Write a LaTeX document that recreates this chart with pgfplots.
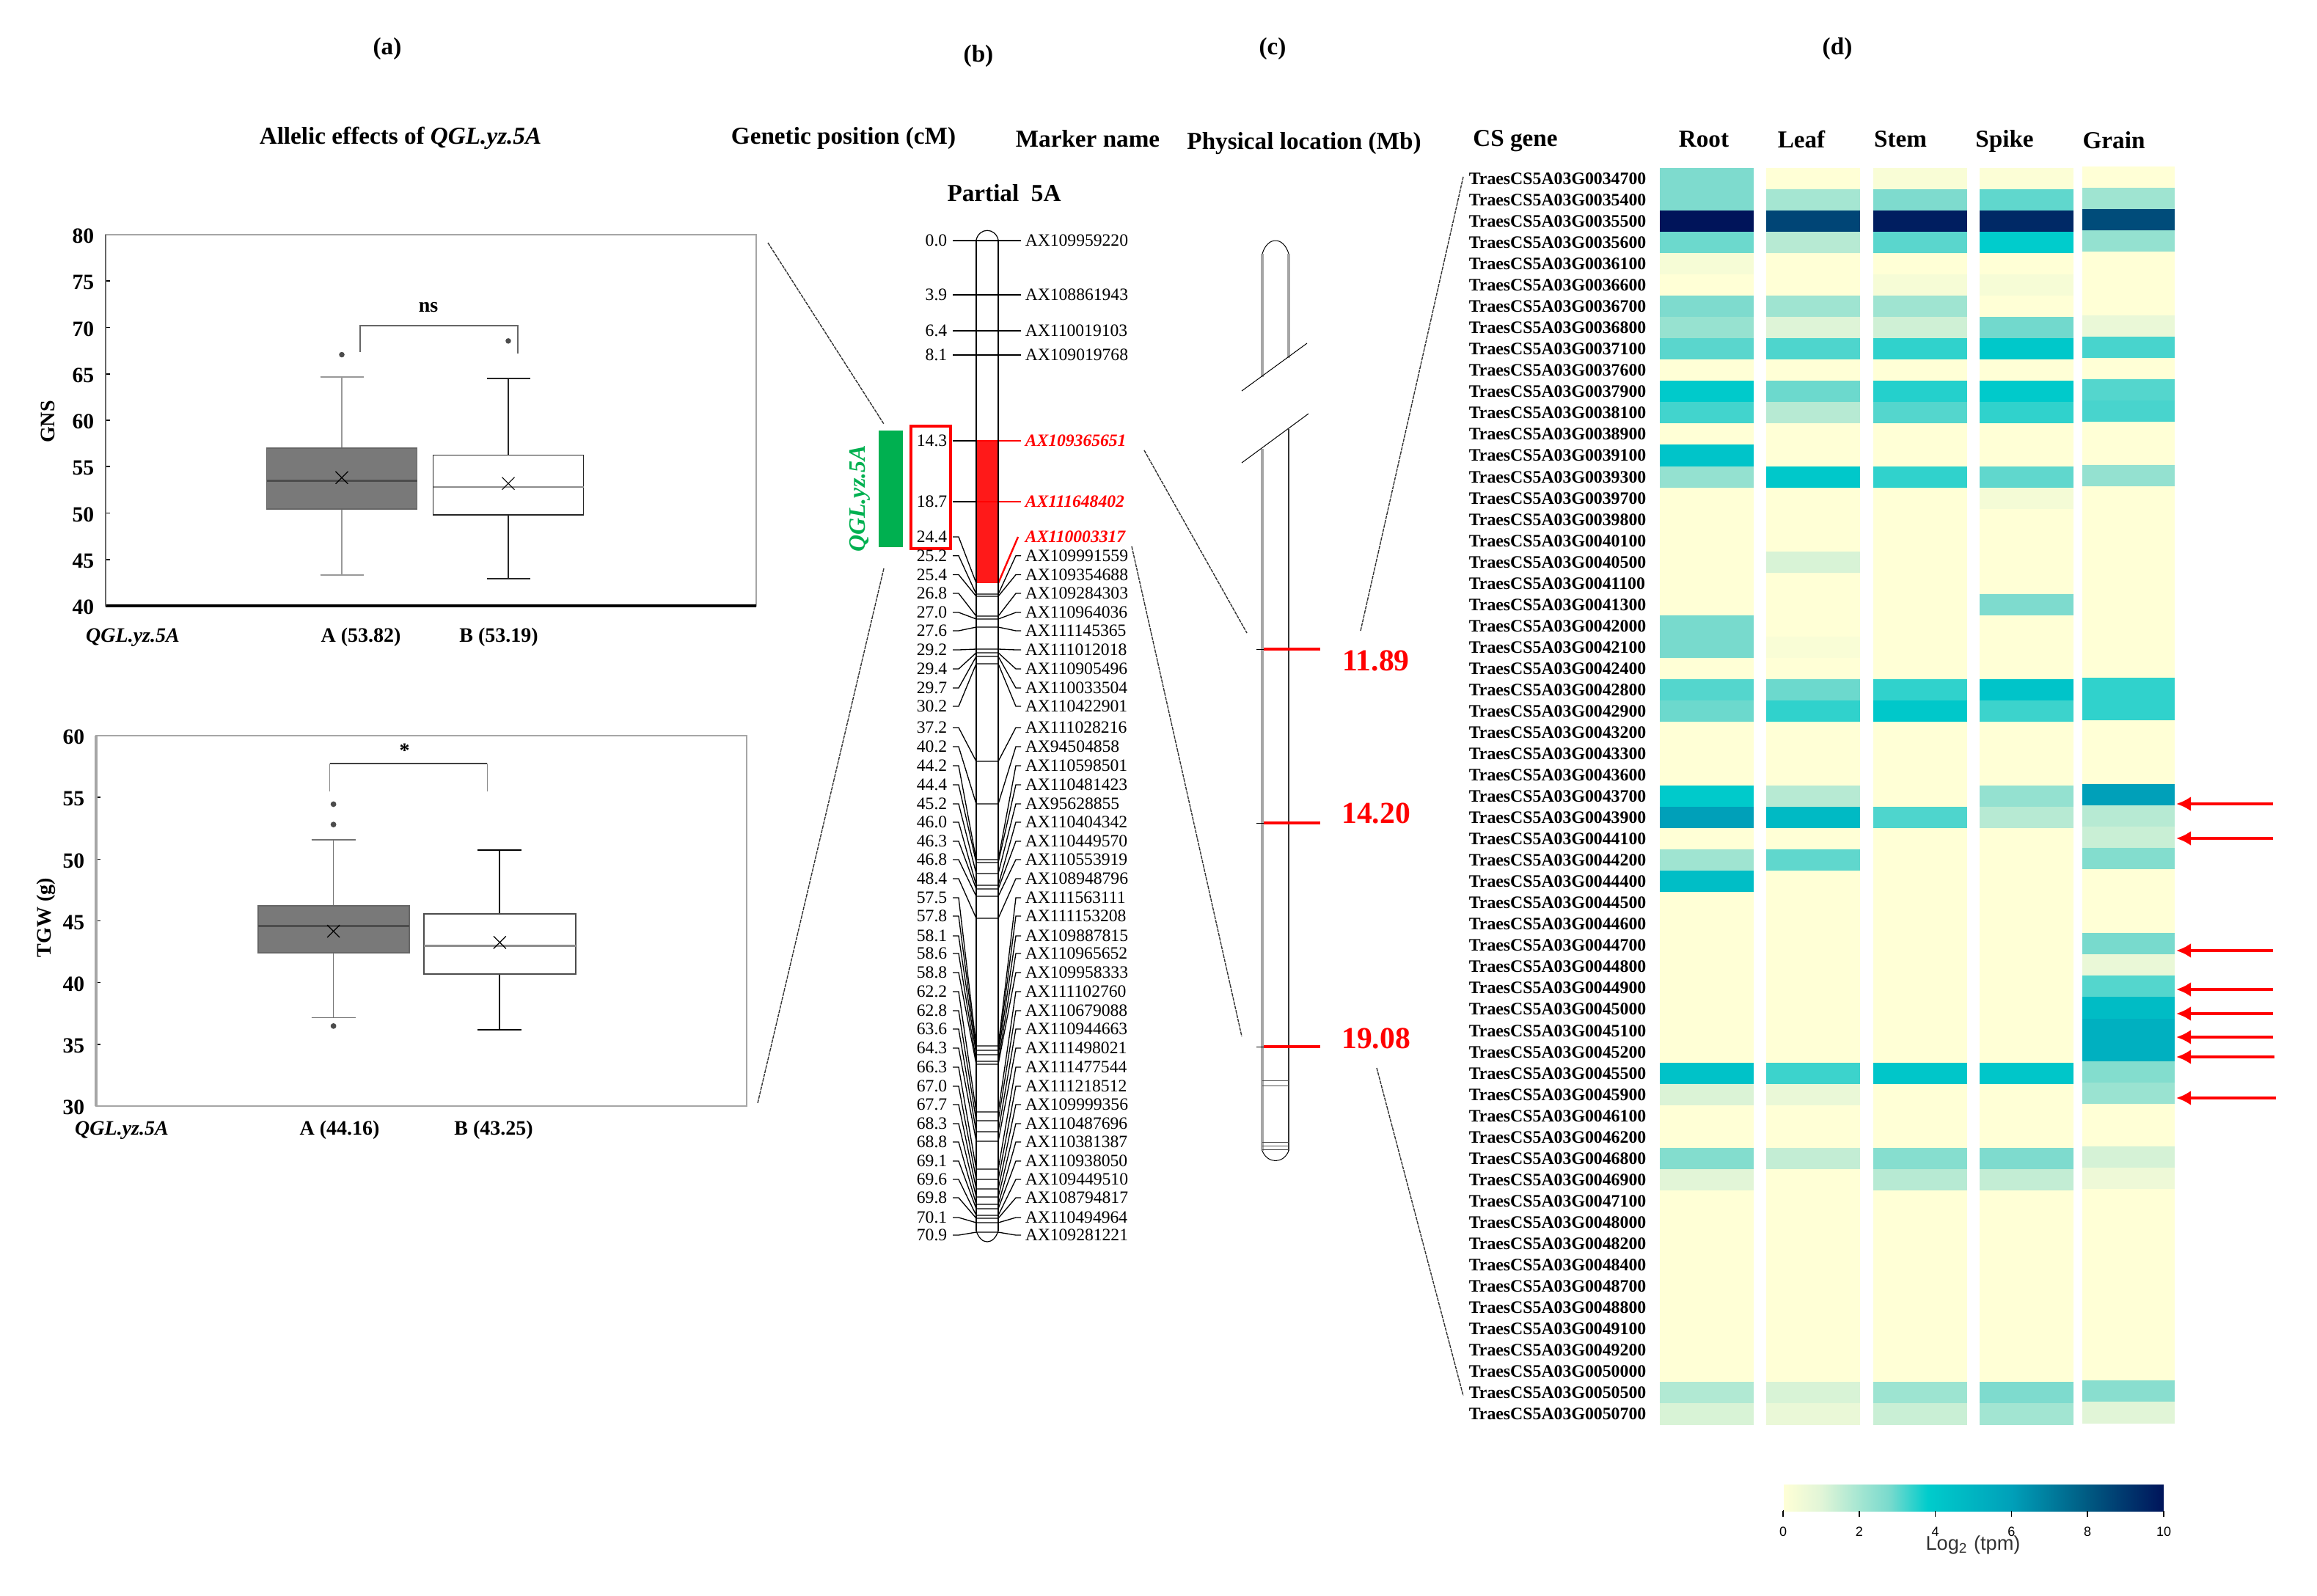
\documentclass[border=0pt]{standalone}
\usepackage{fontspec}
\setmainfont{Liberation Serif}
\setsansfont{Liberation Sans}
\usepackage{pgfplots}
\usepackage{pgfplotstable}
\pgfplotsset{compat=1.18}
\usepgfplotslibrary{statistics}
\usetikzlibrary{arrows.meta}
\newcommand\fH{\fontsize{8.3}{10}\selectfont\bfseries}
\newcommand\fL{\fontsize{7}{8.5}\selectfont\bfseries}
\newcommand\fM{\fontsize{5.9}{7}\selectfont}
\newcommand\fG{\fontsize{5.95}{7}\selectfont\bfseries}
\definecolor{hred}{RGB}{255,0,0}
\definecolor{qgreen}{RGB}{0,176,80}
\pgfdeclareplotmark{cellW}{\pgfpathrectangle{\pgfpoint{-16pt}{-3.7pt}}{\pgfpoint{32pt}{7.4pt}}\pgfusepathqfill}
\pgfdeclareplotmark{cellG}{\pgfpathrectangle{\pgfpoint{-15.75pt}{-3.7pt}}{\pgfpoint{31.5pt}{7.4pt}}\pgfusepathqfill}
\pgfplotsset{
  colormap={ygb}{rgb255(0pt)=(255,255,214); rgb255(10pt)=(225,245,215); rgb255(20pt)=(165,230,210); rgb255(28pt)=(120,218,205); rgb255(38pt)=(0,204,204); rgb255(60pt)=(0,160,185); rgb255(80pt)=(0,90,130); rgb255(100pt)=(0,20,90)},
  boxax/.style={anchor=south west, scale only axis, xtick=\empty, ytick pos=left, tick align=inside, major tick length=1.5pt,
    tick style={black,line width=.4pt},
    axis line style={draw=gray!70,line width=.35pt},
    yticklabel style={font=\fontsize{7.4}{9}\selectfont\bfseries,yshift=-.5pt,xshift=-.4pt},
    /pgf/number format/assume math mode=true, clip=false, ylabel style={font=\fL}},
}
\pgfplotstableread{
y R L T P G
244 2.7 0 0.2 0.1 0
273 2.7 2.0 2.7 3.0 2.1
302 10 8.6 9.7 9.4 8.4
331 2.9 1.7 3.05 3.8 2.3
360 0.3 0 0 0 0
389 0 0 0.3 0.3 0
418 2.7 2.1 2.1 0 0
447 2.25 1.05 1.3 2.85 0.7
476 3.05 3.15 3.4 4.0 3.2
505 0 0 0 0 0
534 3.9 2.9 3.5 3.9 3.1
563 3.25 1.7 3.1 3.4 3.2
592 0 0 0 0 0
621 4.2 0 0 0 0
651 2.3 4.0 3.4 3.0 2.3
680 0 0 0 0.35 0
709 0 0 0 0 0
738 0 0 0 0 0
767 0 1.15 0 0 0
796 0 0 0 0 0
825 0 0 0 2.7 0
854 2.8 0 0 0 0
883 2.8 0.2 0 0 0
912 0 0 0 0 0
941 3.1 2.9 3.4 4.2 3.4
970 2.9 3.4 4.0 3.3 3.4
999 0 0 0 0 0
1028 0 0 0 0 0
1057 0 0 0 0 0
1086 3.9 1.7 0 2.3 6.0
1115 6.0 4.7 3.15 1.7 1.7
1144 0 0 0 0 1.4
1173 2.1 3.0 0 0 2.6
1202 4.5 0 0 0 0
1231 0 0 0 0 0
1260 0 0 0 0 0
1289 0 0 0 0 2.8
1318 0 0 0 0 0.7
1347 0 0 0 0 3.1
1376 0 0 0 0 4.6
1406 0 0 0 0 5.2
1435 0 0 0 0 5.2
1464 4.3 3.3 4.1 4.1 2.6
1493 1.1 0.7 0 0 2.2
1522 0 0 0 0 0
1551 0 0 0 0 0
1580 2.6 1.5 2.55 2.7 1.2
1609 0.95 0 1.7 1.5 0.55
1638 0 0 0 0 0
1667 0 0 0 0 0
1696 0 0 0 0 0
1725 0 0 0 0 0
1754 0 0 0 0 0
1783 0 0 0 0 0
1812 0 0 0 0 0
1841 0 0 0 0 0
1870 0 0 0 0 0
1899 1.8 1.15 2.15 2.7 2.5
1928 1.15 0.7 1.4 2.05 1.0
}\heat
\begin{document}
\begin{tikzpicture}
\useasboundingbox (0,0) rectangle (789.75pt,543.75pt);
\begin{axis}[at={(0,0)},anchor=south west,scale only axis,width=789.75pt,height=543.75pt,
  xmin=0,xmax=3159,ymin=0,ymax=2175,y dir=reverse,hide axis,clip=false,
  point meta min=0,point meta max=10,colormap name=ygb]
% heat map
\pgfplotsset{cellst/.style={scatter,only marks,point meta=explicit,scatter/use mapped color={fill=mapped color,draw=none}}}
\addplot[cellst,mark=cellW] table[x expr=2326.5,y=y,meta=R]{\heat};
\addplot[cellst,mark=cellW] table[x expr=2472,y=y,meta=L]{\heat};
\addplot[cellst,mark=cellW] table[x expr=2617.5,y=y,meta=T]{\heat};
\addplot[cellst,mark=cellW] table[x expr=2763,y=y,meta=P]{\heat};
\addplot[cellst,mark=cellG] table[x expr=2902,y expr=\thisrow{y}-2,meta=G]{\heat};
% gene labels
\foreach \y/\g in {244/0034700,273/0035400,302/0035500,331/0035600,360/0036100,389/0036600,418/0036700,447/0036800,476/0037100,505/0037600,534/0037900,563/0038100,592/0038900,621/0039100,651/0039300,680/0039700,709/0039800,738/0040100,767/0040500,796/0041100,825/0041300,854/0042000,883/0042100,912/0042400,941/0042800,970/0042900,999/0043200,1028/0043300,1057/0043600,1086/0043700,1115/0043900,1144/0044100,1173/0044200,1202/0044400,1231/0044500,1260/0044600,1289/0044700,1318/0044800,1347/0044900,1376/0045000,1406/0045100,1435/0045200,1464/0045500,1493/0045900,1522/0046100,1551/0046200,1580/0046800,1609/0046900,1638/0047100,1667/0048000,1696/0048200,1725/0048400,1754/0048700,1783/0048800,1812/0049100,1841/0049200,1870/0050000,1899/0050500,1928/0050700}{
  \edef\tmp{\noexpand\node[anchor=west,inner sep=0pt,font=\noexpand\fG] at (2002,\y) {TraesCS5A03G\g};}\tmp}
% headers
\node[font=\fH] at (528,67) {(a)};
\node[font=\fH] at (1334,77) {(b)};
\node[font=\fH] at (1735,67) {(c)};
\node[font=\fH] at (2505,67) {(d)};
\node[font=\fH] at (546,188) {Allelic effects of \textit{QGL.yz.5A}};
\node[font=\fH] at (1150,189) {Genetic position (cM)};
\node[font=\fH] at (1483,189) {Marker name};
\node[font=\fH] at (1778,196) {Physical location (Mb)};
\node[font=\fH] at (1369,263) {Partial\ \ 5A};
\node[font=\fH] at (2066,192) {CS gene};
\node[font=\fH] at (2323,190) {Root};
\node[font=\fH] at (2456,190) {Leaf};
\node[font=\fH] at (2591,190) {Stem};
\node[font=\fH] at (2733,193) {Spike};
\node[font=\fH] at (2882,191) {Grain};
% box plot labels
\node[font=\fL] at (181,869) {\textit{QGL.yz.5A}};
\node[font=\fL] at (492,869) {A (53.82)};
\node[font=\fL] at (680,869) {B (53.19)};
\node[font=\fL] at (166,1541) {\textit{QGL.yz.5A}};
\node[font=\fL] at (463,1541) {A (44.16)};
\node[font=\fL] at (673,1541) {B (43.25)};
\node[font=\fL,rotate=90] at (65,575) {GNS};
\node[font=\fL,rotate=90] at (63,1251) {TGW (g)};
% connecting lines
\pgfplotsset{conn/.style={gray!40!black,line width=.35pt,dash pattern=on 1.2pt off .3pt}}
\addplot[conn] coordinates {(1047,331)(1205,578)};
\addplot[conn] coordinates {(1205,775)(1033,1504)};
\addplot[conn] coordinates {(1560,614)(1700,863)};
\addplot[conn] coordinates {(1543,745)(1693,1413)};
\addplot[conn] coordinates {(1855,860)(1995,241)};
\addplot[conn] coordinates {(1877,1456)(1995,1903)};
% QTL block
\fill[qgreen] (1198,587) rectangle (1231,746);
\draw[hred,line width=1.2pt] (1242,581) rectangle (1296,748);
\node[font=\fontsize{8}{9}\selectfont\bfseries\itshape,text=qgreen,rotate=90] at (1172,680) {QGL.yz.5A};
% genetic map
\fill[red!90!white] (1331,601) rectangle (1361,795);
\foreach \n/\ly/\by/\nm in {0.0/328/328/AX109959220,3.9/402/402/AX108861943,6.4/451/451/AX110019103,8.1/484/484/AX109019768,
 25.2/757.7/810/AX109991559,25.4/783.5/813/AX109354688,26.8/809/840/AX109284303,27.0/835/844/AX110964036,27.6/860/855/AX111145365,29.2/886/885/AX111012018,29.4/912/890/AX110905496,29.7/938/895/AX110033504,30.2/963/905/AX110422901,
 37.2/992/1038/AX111028216,40.2/1018/1096/AX94504858,44.2/1044/1172/AX110598501,44.4/1070/1176/AX110481423,45.2/1096/1191/AX95628855,46.0/1121/1207/AX110404342,46.3/1147/1212/AX110449570,46.8/1172/1222/AX110553919,48.4/1198/1252/AX108948796,
 57.5/1224/1426/AX111563111,57.8/1249/1432/AX111153208,58.1/1276/1438/AX109887815,58.6/1300/1447/AX110965652,58.8/1326/1451/AX109958333,62.2/1352/1516/AX111102760,62.8/1378/1528/AX110679088,63.6/1403/1543/AX110944663,64.3/1429/1556/AX111498021,66.3/1455/1594/AX111477544,
 67.0/1481/1608/AX111218512,67.7/1506/1621/AX109999356,68.3/1532/1632/AX110487696,68.8/1557/1642/AX110381387,69.1/1583/1648/AX110938050,69.6/1608/1657/AX109449510,69.8/1633/1661/AX108794817,70.1/1660/1667/AX110494964,70.9/1684/1680/AX109281221}{
  \edef\tmp{\noexpand\addplot[black,line width=.33pt] coordinates {(1299,\ly)(1307,\ly)(1331,\by)(1361,\by)(1385,\ly)(1392,\ly)};
  \noexpand\node[anchor=east,inner sep=0pt,font=\noexpand\fM] at (1292,\ly) {\n};
  \noexpand\node[anchor=west,inner sep=0pt,font=\noexpand\fM] at (1397,\ly) {\nm};}\tmp}
% highlighted markers
\addplot[black,line width=.33pt] coordinates {(1299,601)(1331,601)};
\addplot[hred,line width=.5pt] coordinates {(1331,601)(1392,601)};
\addplot[black,line width=.33pt] coordinates {(1299,684)(1331,684)};
\addplot[hred,line width=.5pt] coordinates {(1331,684)(1392,684)};
\addplot[black,line width=.33pt] coordinates {(1299,732)(1307,732)(1331,795)};
\addplot[hred,line width=.6pt] coordinates {(1361,795)(1388,732)};
\node[anchor=east,inner sep=0pt,font=\fM] at (1292,601) {14.3};
\node[anchor=east,inner sep=0pt,font=\fM] at (1292,684) {18.7};
\node[anchor=east,inner sep=0pt,font=\fM] at (1292,732) {24.4};
\node[anchor=west,inner sep=0pt,font=\fM\bfseries\itshape,text=hred] at (1397,601) {AX109365651};
\node[anchor=west,inner sep=0pt,font=\fM\bfseries\itshape,text=hred] at (1397,684) {AX111648402};
\node[anchor=west,inner sep=0pt,font=\fM\bfseries\itshape,text=hred] at (1397,732) {AX110003317};
% chromosome outline
\draw[black,line width=.5pt] (1331,327) -- (1331,1678);
\draw[black,line width=.5pt] (1361,327) -- (1361,1678);
\draw[black,line width=.3pt] (1331,327) .. controls (1335,310) and (1357,310) .. (1361,327);
\draw[black,line width=.3pt] (1331,1678) .. controls (1337,1698) and (1355,1698) .. (1361,1678);
% physical chromosome
\draw[gray!70,line width=.8pt] (1721,346) -- (1721,514);
\draw[gray!70,line width=.8pt] (1757,346) -- (1757,488);
\draw[gray!70,line width=.8pt] (1721,612) -- (1721,1569);
\draw[black!80,line width=.5pt] (1757,585) -- (1757,1569);
\draw[black,line width=.25pt] (1721,346) .. controls (1728,322) and (1750,322) .. (1757,346);
\draw[black,line width=.25pt] (1721,1569) .. controls (1728,1587) and (1750,1587) .. (1757,1569);
\draw[black,line width=.25pt] (1693,533) -- (1782,468);
\draw[black,line width=.25pt] (1693,631) -- (1784,564);
\foreach \yy in {1473,1480,1557,1562,1567}{\edef\tmp{\noexpand\draw[black!70,line width=.2pt] (1721,\yy) -- (1757,\yy);}\tmp}
\foreach \yy/\tt/\ty in {885/11.89/901,1122/14.20/1109,1427/19.08/1416}{
 \edef\tmp{\noexpand\draw[black,line width=.2pt] (1713,\yy) -- (1723,\yy);
 \noexpand\draw[hred,line width=.8pt] (1723,\yy) -- (1800,\yy);
 \noexpand\node[font=\noexpand\fontsize{10.4}{12}\noexpand\selectfont\noexpand\bfseries,text=hred] at (1876,\ty) {\tt};}\tmp}
% arrows
\foreach \yy/\xx in {1096/3099,1143/3099,1296/3099,1349/3099,1382/3099,1414/3099,1441/3101,1497/3103}{
 \edef\tmp{\noexpand\draw[hred,line width=1.1pt,-{Latex[length=5pt,width=5pt]}] (\xx,\yy) -- (2967,\yy);}\tmp}
% colour bar annotation
\draw[black,line width=.4pt] (2431,2060) -- (2950,2060);
\node[font=\sffamily\fontsize{6.8}{8}\selectfont,text=black!80] at (2690,2106) {Log\textsubscript{2} (tpm)};
\end{axis}
% colour bar
\begin{axis}[at={(607.75pt,28.75pt)},anchor=south west,scale only axis,width=129.75pt,height=9pt,hide axis,
  xmin=0,xmax=10,ymin=0,ymax=1,point meta min=0,point meta max=10,colormap name=ygb,
  colorbar horizontal,
  colorbar style={at={(0,0)},anchor=south west,scale only axis,width=129.75pt,height=9pt,
    axis line style={draw=none},xtick={0,2,4,6,8,10},tick style={black,line width=.4pt},tick align=outside,major tick length=2pt,
    xticklabel style={font=\sffamily\fontsize{4.5}{5}\selectfont},/pgf/number format/assume math mode=true,
    xticklabel pos=lower,xtick pos=lower,ytick=\empty}]
\addplot[draw=none] coordinates {(0,0)(10,1)};
\end{axis}
% GNS
\begin{axis}[boxax,at={(36pt,337.25pt)},width=221.75pt,height=126.5pt,xmin=144,xmax=1031,ymin=40,ymax=80,ytick={40,45,...,80},
  boxplot/draw direction=y]
\addplot+[fill=gray!95!black,draw=black!60,line width=.45pt,solid,mark=*,mark size=.7pt,mark options={black!70,fill=black!70},boxplot prepared={lower whisker=43.35,lower quartile=50.44,median=53.46,upper quartile=57.0,upper whisker=64.67,draw position=466,box extend=205,whisker extend=59},
  boxplot/every median/.style={draw=black!70,line width=.7pt},boxplot/every whisker/.style={draw=black!40,line width=.5pt}] coordinates {(466,67.07)};
\addplot+[fill=white,draw=black!85,line width=.45pt,solid,mark=*,mark size=.7pt,mark options={black!70,fill=black!70},boxplot prepared={lower whisker=42.9,lower quartile=49.8,median=52.8,upper quartile=56.24,upper whisker=64.5,draw position=693,box extend=205,whisker extend=59},
  boxplot/every median/.style={draw=black!45,line width=.6pt}] coordinates {(693,68.55)};
\addplot[only marks,mark=x,mark size=3pt,black,mark options={line width=.3pt}] coordinates {(466,53.82)(693,53.19)};
\addplot[black!60,line width=.3pt] coordinates {(491,67.35)(491,70.2)(706,70.2)(706,67.2)};
\node[font=\fL] at (584,72.2) {ns};
\draw[black,line width=.8pt] (144,40) -- (1031,40);
\draw[black!60,line width=.6pt] (144,40) -- (144,80);
\end{axis}
% TGW
\begin{axis}[boxax,at={(32.75pt,166.75pt)},width=221.75pt,height=126.25pt,xmin=131,xmax=1019,ymin=30,ymax=60,ytick={30,35,...,60},
  boxplot/draw direction=y]
\addplot+[fill=gray!95!black,draw=black!60,line width=.5pt,solid,mark=*,mark size=.7pt,mark options={black!70,fill=black!70},boxplot prepared={lower whisker=37.15,lower quartile=42.4,median=44.6,upper quartile=46.2,upper whisker=51.57,draw position=455,box extend=206,whisker extend=60},
  boxplot/every median/.style={draw=black!70,line width=.7pt},boxplot/every whisker/.style={draw=black!55,line width=.4pt}] coordinates {(455,54.45)(455,52.8)(455,36.48)};
\addplot+[fill=white,draw=black!70,line width=.5pt,solid,mark=none,boxplot prepared={lower whisker=36.16,lower quartile=40.67,median=42.99,upper quartile=45.58,upper whisker=50.73,draw position=682,box extend=207,whisker extend=60},
  boxplot/every median/.style={draw=black!45,line width=.6pt},boxplot/every whisker/.style={draw=black,line width=.45pt}] coordinates {};
\addplot[only marks,mark=x,mark size=3pt,black,mark options={line width=.3pt}] coordinates {(455,44.16)(682,43.25)};
\addplot[black!45,line width=.25pt] coordinates {(450,55.46)(450,57.73)};
\addplot[black!45,line width=.25pt] coordinates {(665,55.46)(665,57.73)};
\addplot[black!75,line width=.5pt] coordinates {(450,57.73)(665,57.73)};
\node[font=\fL] at (552,58.8) {*};
\draw[gray!70,line width=.9pt] (131,30) -- (131,60);
\end{axis}
\end{tikzpicture}
\end{document}
